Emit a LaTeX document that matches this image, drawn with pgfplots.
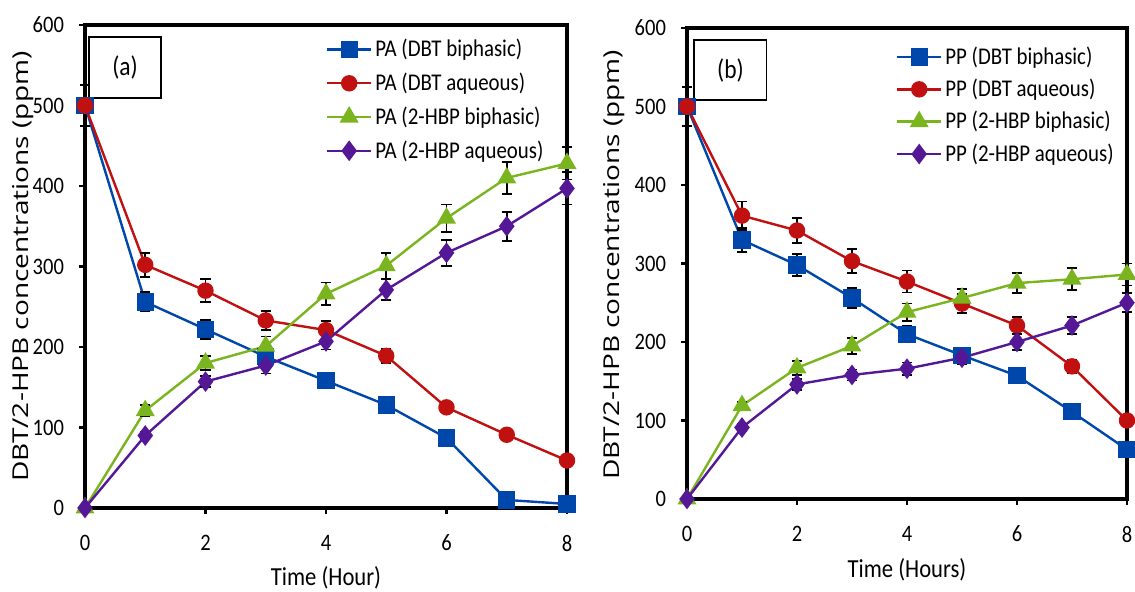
\documentclass[border=0pt]{standalone}
\usepackage{pgfplots}
\pgfplotsset{compat=1.18}
\usepackage{pgfplotstable}
\usepackage{fontspec}
\setmainfont{Carlito}
\newfontfamily\narrowfont{Carlito}[FakeStretch=0.87]
\newfontfamily\labfont{Open Sans}

\definecolor{cblue}{RGB}{0,71,171}
\definecolor{cred}{RGB}{192,16,16}
\definecolor{cgreen}{RGB}{122,180,30}
\definecolor{cpurple}{RGB}{84,24,150}

% x, concentration, error
\pgfplotstableread{
x y e
0 500 25
1 256 12
2 222 12
3 188 12
4 158 5
5 128 5
6 87 5
7 10 5
8 5 4
}\paDBTbi
\pgfplotstableread{
x y e
0 500 25
1 302 15
2 270 14
3 233 12
4 221 11
5 189 9
6 125 6
7 91 5
8 59 4
}\paDBTaq
\pgfplotstableread{
x y e
0 0 0
1 121 7
2 180 9
3 201 12
4 266 14
5 301 16
6 360 17
7 410 20
8 428 20
}\paHBPbi
\pgfplotstableread{
x y e
0 0 0
1 90 5
2 157 7
3 177 10
4 207 10
5 271 13
6 317 16
7 350 18
8 397 20
}\paHBPaq
\pgfplotstableread{
x y e
0 500 25
1 330 15
2 298 14
3 256 13
4 210 10
5 183 8
6 157 5
7 111 5
8 63 5
}\ppDBTbi
\pgfplotstableread{
x y e
0 500 25
1 361 18
2 342 16
3 303 15
4 277 14
5 249 12
6 221 11
7 169 8
8 100 5
}\ppDBTaq
\pgfplotstableread{
x y e
0 0 0
1 119 5
2 167 9
3 195 10
4 238 11
5 256 12
6 275 13
7 280 14
8 286 14
}\ppHBPbi
\pgfplotstableread{
x y e
0 0 0
1 91 5
2 146 7
3 158 7
4 166 8
5 180 8
6 200 10
7 221 11
8 250 12
}\ppHBPaq

\newcommand{\conclabel}{\scalebox{1}[0.78]{DBT/2-HPB concentrations (ppm)}}

\pgfplotsset{
  panel/.style={
    scale only axis, clip=false,
    xmin=0, xmax=8, ymin=0, ymax=600,
    xtick={0,2,...,8}, ytick={0,100,...,600},
    xtick pos=left, ytick pos=left,
    tick align=outside, major tick length=3pt,
    every tick/.style={black, line width=1.4pt},
    axis line style={line width=1.8pt},
    /pgf/number format/assume math mode=true,
    tick label style={font=\narrowfont\fontsize{11.8pt}{13pt}\selectfont},
    xticklabel style={yshift=-7pt},
    yticklabel style={xshift=-4pt},
    xlabel style={font=\narrowfont\fontsize{13pt}{15pt}\selectfont, anchor=center},
    ylabel style={font=\labfont\fontsize{14pt}{16pt}\selectfont, anchor=center},
    legend cell align=left,
    legend style={draw=none, fill=none, font=\narrowfont\fontsize{12pt}{14pt}\selectfont,
      anchor=north west, row sep=3.4pt, inner sep=0pt, outer sep=0pt,
      nodes={inner sep=1.5pt}},
    legend image code/.code={
      \draw[#1] (0pt,0pt) -- (22pt,0pt);
      \draw[#1, only marks] plot coordinates {(11pt,0pt)};
    },
    error bars/y dir=both, error bars/y explicit,
    error bars/error bar style={black, line width=0.9pt},
    error bars/error mark options={rotate=90, black, mark size=2.6pt, line width=0.9pt},
  },
  sblue/.style={cblue, line width=1.2pt, mark=square*, mark size=3.7pt, mark options={solid, fill=cblue}},
  sred/.style={cred, line width=1.2pt, mark=*, mark size=3.5pt, mark options={solid, fill=cred}},
  sgreen/.style={cgreen, line width=1.2pt, mark=triangle*, mark size=4.3pt, mark options={solid, fill=cgreen}},
  spurple/.style={cpurple, line width=1.2pt, mark=diamond*, mark size=4.2pt, mark options={solid, fill=cpurple}},
}

\begin{document}
\begin{tikzpicture}
\path[use as bounding box] (0,0) rectangle (567.5pt,296pt);

% panel (a)
\begin{axis}[panel,
  at={(42.5pt,42pt)}, anchor=south west,
  width=241pt, height=241.5pt,
  xlabel={Time (Hour)}, ylabel={\conclabel},
  xlabel style={at={(axis description cs:0.5,-0.145)}},
  ylabel style={at={(axis description cs:-0.129,0.5)}},
  legend style={at={(axis cs:4.0,586)}, row sep=3.6pt},
]
\addplot[sblue] table[x=x, y=y, y error=e] {\paDBTbi};
\addplot[sred] table[x=x, y=y, y error=e] {\paDBTaq};
\addplot[sgreen] table[x=x, y=y, y error=e] {\paHBPbi};
\addplot[spurple] table[x=x, y=y, y error=e] {\paHBPaq};
\legend{PA (DBT biphasic), PA (DBT aqueous), PA (2-HBP biphasic), PA (2-HBP aqueous)}
\draw[black, line width=0.8pt, fill=white] (axis cs:0.07,509) rectangle (axis cs:1.26,585);
\node[font=\narrowfont\fontsize{13.5pt}{15pt}\selectfont] at (axis cs:0.665,547) {(a)};
\end{axis}

% panel (b)
\begin{axis}[panel,
  at={(343.5pt,46.5pt)}, anchor=south west,
  width=220pt, height=235.5pt,
  xlabel={Time (Hours)}, ylabel={\conclabel},
  xlabel style={at={(axis description cs:0.5,-0.151)}},
  ylabel style={at={(axis description cs:-0.166,0.497)}},
  legend style={at={(axis cs:3.8,580)}, row sep=2.9pt},
]
\addplot[sblue] table[x=x, y=y, y error=e] {\ppDBTbi};
\addplot[sred] table[x=x, y=y, y error=e] {\ppDBTaq};
\addplot[sgreen] table[x=x, y=y, y error=e] {\ppHBPbi};
\addplot[spurple] table[x=x, y=y, y error=e] {\ppHBPaq};
\legend{PP (DBT biphasic), PP (DBT aqueous), PP (2-HBP biphasic), PP (2-HBP aqueous)}
\draw[black, line width=0.8pt, fill=white] (axis cs:0.13,508) rectangle (axis cs:1.445,585);
\node[font=\narrowfont\fontsize{13.5pt}{15pt}\selectfont] at (axis cs:0.79,546.5) {(b)};
\end{axis}
\end{tikzpicture}
\end{document}
